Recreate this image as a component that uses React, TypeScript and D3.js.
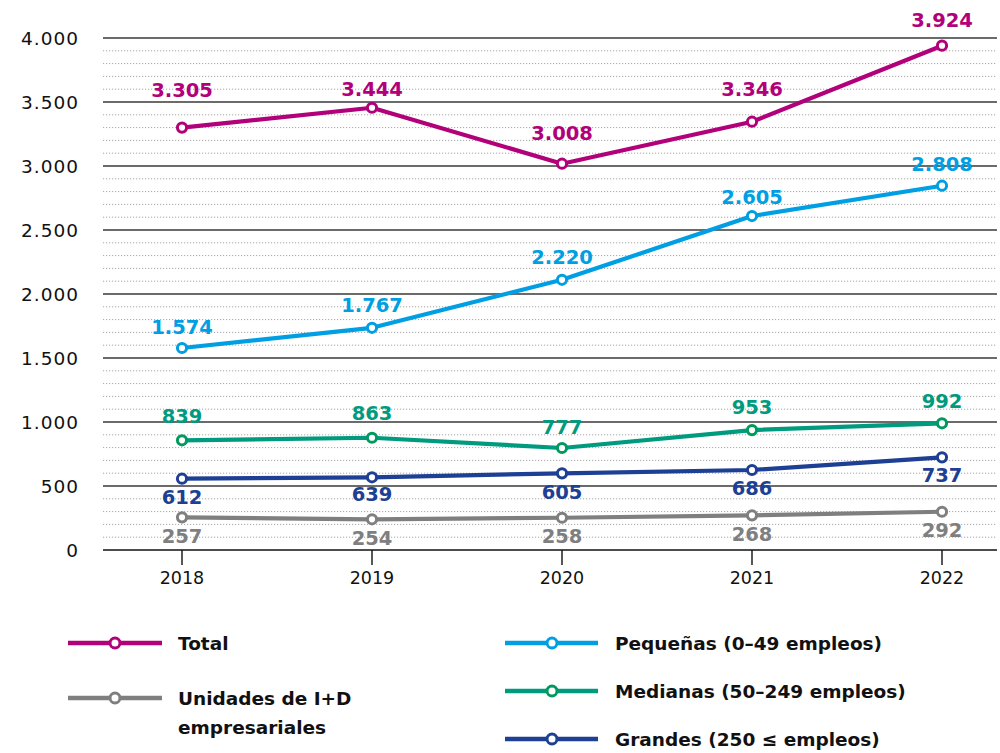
import React from "react";
import * as d3 from "d3";

const years = [2018, 2019, 2020, 2021, 2022];
const yTicks = [0, 500, 1000, 1500, 2000, 2500, 3000, 3500, 4000];

// point positions
const totalValues = [3300, 3455, 3018, 3346, 3940];
const pequenasValues = [1578, 1736, 2111, 2609, 2846];
const medianasValues = [857, 877, 797, 937, 990];
const grandesValues = [557, 568, 599, 625, 724];
const unidadesValues = [255, 240, 252, 271, 299];

// printed value labels
const totalLabels = [3305, 3444, 3008, 3346, 3924];
const pequenasLabels = [1574, 1767, 2220, 2605, 2808];
const medianasLabels = [839, 863, 777, 953, 992];
const grandesLabels = [612, 639, 605, 686, 737];
const unidadesLabels = [257, 254, 258, 268, 292];

const W = 1000;
const H = 753;
const plotLeft = 103;
const plotRight = 997;

const x = d3.scaleLinear().domain([2018, 2022]).range([182, 942]);
const y = d3.scaleLinear().domain([0, 4000]).range([550, 38]);

const fmt = (v: number) =>
  String(v).replace(/\B(?=(\d{3})+(?!\d))/g, ".");

type Series = {
  key: string;
  name: string[];
  values: number[];
  labels: number[];
  color: string;
  markerColor: string;
  labelDy: number[];
  legend: { x1: number; x2: number; cx: number; y: number; tx: number };
};

const series: Series[] = [
  {
    key: "unidades",
    name: ["Unidades de I+D", "empresariales"],
    values: unidadesValues,
    labels: unidadesLabels,
    color: "#7f7f7f",
    markerColor: "#7f7f7f",
    labelDy: [19, 19, 19, 19, 19],
    legend: { x1: 68, x2: 162, cx: 115, y: 698, tx: 178 },
  },
  {
    key: "grandes",
    name: ["Grandes (250 ≤ empleos)"],
    values: grandesValues,
    labels: grandesLabels,
    color: "#1d3f94",
    markerColor: "#1d3f94",
    labelDy: [19, 17, 19, 18, 18],
    legend: { x1: 505, x2: 598, cx: 552, y: 739, tx: 615 },
  },
  {
    key: "medianas",
    name: ["Medianas (50–249 empleos)"],
    values: medianasValues,
    labels: medianasLabels,
    color: "#009b7f",
    markerColor: "#009a5e",
    labelDy: [-24, -24, -20, -23, -22],
    legend: { x1: 505, x2: 598, cx: 552, y: 691, tx: 615 },
  },
  {
    key: "pequenas",
    name: ["Pequeñas (0–49 empleos)"],
    values: pequenasValues,
    labels: pequenasLabels,
    color: "#009fe3",
    markerColor: "#009fe3",
    labelDy: [-21, -22, -22, -19, -21],
    legend: { x1: 505, x2: 598, cx: 552, y: 643, tx: 615 },
  },
  {
    key: "total",
    name: ["Total"],
    values: totalValues,
    labels: totalLabels,
    color: "#b2007a",
    markerColor: "#b2007a",
    labelDy: [-37, -18, -30, -32, -25],
    legend: { x1: 68, x2: 162, cx: 115, y: 643, tx: 178 },
  },
];

const minorTicks = d3.range(100, 4001, 100).filter((v) => v % 500 !== 0);

const axisFont = "'DejaVu Sans', sans-serif";

export default function App() {
  const line = d3
    .line<number>()
    .x((_, i) => x(years[i]))
    .y((d) => y(d));

  return (
    <svg
      width={W}
      height={H}
      viewBox={`0 0 ${W} ${H}`}
      style={{ position: "absolute", left: 0, top: 0, background: "#fff" }}
    >
      {/* minor dotted grid */}
      {minorTicks.map((v) => (
        <line
          key={"m" + v}
          x1={plotLeft}
          x2={plotRight}
          y1={y(v)}
          y2={y(v)}
          stroke="#a6a6a6"
          strokeWidth={1}
          strokeDasharray="1.2 1.8"
        />
      ))}
      {/* major grid */}
      {yTicks.map((v) => (
        <line
          key={"g" + v}
          x1={plotLeft}
          x2={plotRight}
          y1={y(v)}
          y2={y(v)}
          stroke={v === 0 ? "#111" : "#3a3a3a"}
          strokeWidth={v === 0 ? 1.6 : 1.4}
        />
      ))}
      {/* y labels */}
      {yTicks.map((v) => (
        <text
          key={"yl" + v}
          x={79}
          y={y(v)}
          textAnchor="end"
          dominantBaseline="central"
          fontFamily={axisFont}
          fontSize={18.5}
          letterSpacing={1}
          fill="#111"
        >
          {fmt(v)}
        </text>
      ))}
      {/* x ticks */}
      {years.map((yr) => (
        <g key={"x" + yr}>
          <line
            x1={x(yr)}
            x2={x(yr)}
            y1={y(0)}
            y2={y(0) + 15}
            stroke="#111"
            strokeWidth={1.4}
          />
          <text
            x={x(yr)}
            y={578}
            textAnchor="middle"
            dominantBaseline="central"
            fontFamily={axisFont}
            fontSize={17.5}
            fill="#111"
          >
            {yr}
          </text>
        </g>
      ))}
      {/* lines */}
      {series.map((s) => (
        <path
          key={"l" + s.key}
          d={line(s.values) || ""}
          fill="none"
          stroke={s.color}
          strokeWidth={4.2}
          strokeLinejoin="round"
          strokeLinecap="round"
        />
      ))}
      {/* markers */}
      {series.map((s) =>
        s.values.map((v, i) => (
          <circle
            key={"c" + s.key + i}
            cx={x(years[i])}
            cy={y(v)}
            r={4.6}
            fill="#fff"
            stroke={s.markerColor}
            strokeWidth={3}
          />
        ))
      )}
      {/* value labels */}
      {series.map((s) =>
        s.values.map((v, i) => (
          <text
            key={"t" + s.key + i}
            x={x(years[i])}
            y={y(v) + s.labelDy[i]}
            textAnchor="middle"
            dominantBaseline="central"
            fontFamily={axisFont}
            fontWeight="bold"
            fontSize={19.5}
            fill={s.color}
          >
            {fmt(s.labels[i])}
          </text>
        ))
      )}
      {/* legend */}
      {series.map((s) => (
        <g key={"lg" + s.key}>
          <line
            x1={s.legend.x1}
            x2={s.legend.x2}
            y1={s.legend.y}
            y2={s.legend.y}
            stroke={s.color}
            strokeWidth={4.3}
          />
          <circle
            cx={s.legend.cx}
            cy={s.legend.y}
            r={5}
            fill="#fff"
            stroke={s.markerColor}
            strokeWidth={3}
          />
          {s.name.map((n, k) => (
            <text
              key={k}
              x={s.legend.tx}
              y={s.legend.y + k * 29}
              dominantBaseline="central"
              fontFamily={axisFont}
              fontWeight="bold"
              fontSize={18.5}
              fill="#111"
            >
              {n}
            </text>
          ))}
        </g>
      ))}
    </svg>
  );
}
